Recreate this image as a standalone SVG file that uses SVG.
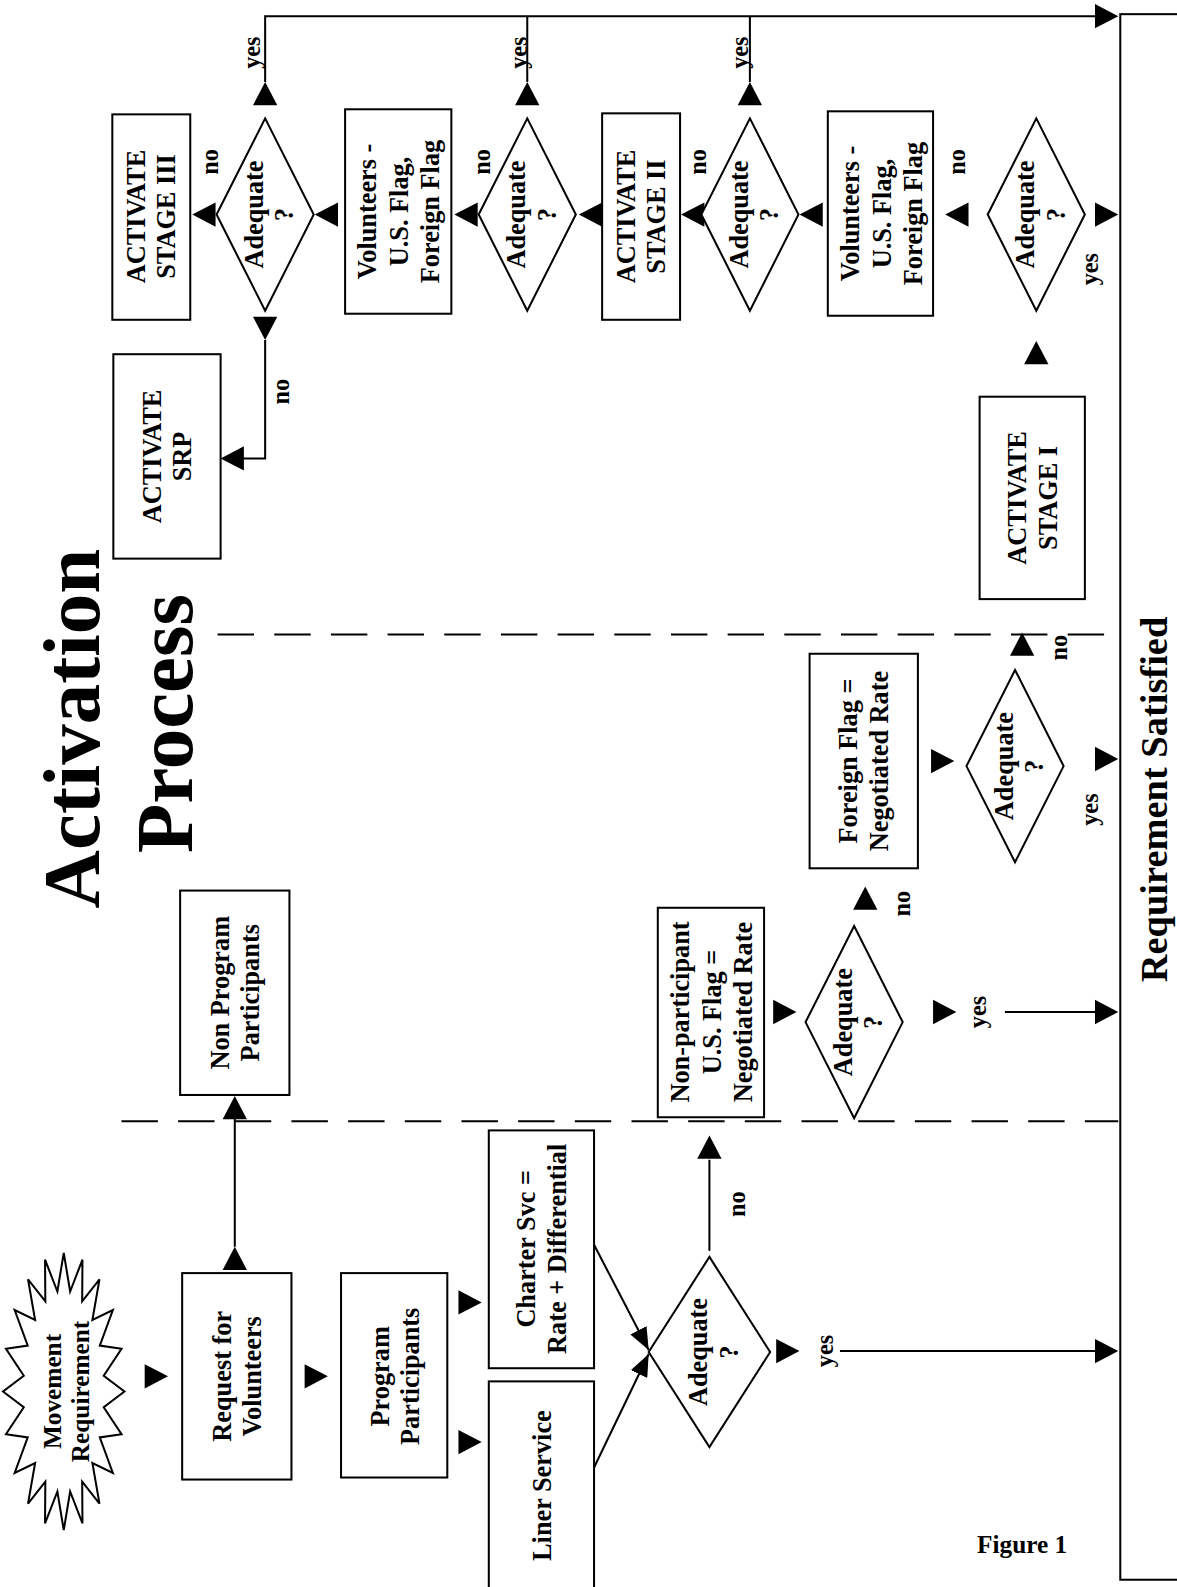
<svg xmlns="http://www.w3.org/2000/svg" xmlns:xlink="http://www.w3.org/1999/xlink" width="1177" height="1587" viewBox="0 0 1177 1587">
<style>
.box{fill:#fff;stroke:#000;stroke-width:2}
.ln{fill:none;stroke:#000;stroke-width:2}
.dash{fill:none;stroke:#000;stroke-width:2;stroke-dasharray:36 20}
text{font-family:"Liberation Serif","Times New Roman",serif;font-weight:bold;fill:#000}
.t{font-size:26px;text-anchor:middle}
.lb{font-size:24px;text-anchor:middle}
.title{font-size:80px;text-anchor:middle}
</style>
<defs>
<polygon id="tri" points="-23,-12 0,0 -23,12" fill="#000"/>
<marker id="ah2" viewBox="0 0 22 18" refX="22" refY="9" markerWidth="22" markerHeight="18" markerUnits="userSpaceOnUse" orient="auto">
<path d="M0,0 L22,9 L0,18 z" fill="#000"/>
</marker>
</defs>
<rect width="1177" height="1587" fill="#fff"/>
<g id="diagram" transform="scale(1.012)">

<g id="title">
<g transform="translate(70,720) rotate(-90)"><text class="title" x="0" y="28">Activation</text></g>
<g transform="translate(162,715) rotate(-90)"><text class="title" x="0" y="28">Process</text></g>
</g>

<g id="dividers">
<line class="dash" x1="215" y1="627" x2="1105" y2="627"/>
<line class="dash" x1="120" y1="1108" x2="1105" y2="1108"/>
</g>

<g id="connectors">
<path class="ln" d="M262,81 V16 H1085"/>
<path class="ln" d="M521,81 V16"/>
<path class="ln" d="M741,81 V16"/>
<path class="ln" d="M262,336 V453 H240"/>
<path class="ln" d="M232,1232 V1104"/>
<path class="ln" d="M701,1236 V1146"/>
<path class="ln" d="M830,1335 H1085"/>
<path class="ln" d="M993,1000 H1085"/>
<path class="ln" d="M587,1230 L641,1334" marker-end="url(#ah2)"/>
<path class="ln" d="M575,1475 L641,1338" marker-end="url(#ah2)"/>
<use xlink:href="#tri" href="#tri" transform="translate(166,1360)"/>
<use xlink:href="#tri" href="#tri" transform="translate(324,1360)"/>
<use xlink:href="#tri" href="#tri" transform="translate(476,1287)"/>
<use xlink:href="#tri" href="#tri" transform="translate(476,1425)"/>
<use xlink:href="#tri" href="#tri" transform="translate(790,1335)"/>
<use xlink:href="#tri" href="#tri" transform="translate(1105,1335)"/>
<use xlink:href="#tri" href="#tri" transform="translate(787,1000)"/>
<use xlink:href="#tri" href="#tri" transform="translate(945,1000)"/>
<use xlink:href="#tri" href="#tri" transform="translate(1105,1000)"/>
<use xlink:href="#tri" href="#tri" transform="translate(943,752)"/>
<use xlink:href="#tri" href="#tri" transform="translate(1105,750)"/>
<use xlink:href="#tri" href="#tri" transform="translate(1105,212)"/>
<use xlink:href="#tri" href="#tri" transform="translate(1105,16)"/>
<use xlink:href="#tri" href="#tri" transform="translate(190,212) rotate(180)"/>
<use xlink:href="#tri" href="#tri" transform="translate(311,212) rotate(180)"/>
<use xlink:href="#tri" href="#tri" transform="translate(449,212) rotate(180)"/>
<use xlink:href="#tri" href="#tri" transform="translate(572,212) rotate(180)"/>
<use xlink:href="#tri" href="#tri" transform="translate(673,212) rotate(180)"/>
<use xlink:href="#tri" href="#tri" transform="translate(790,212) rotate(180)"/>
<use xlink:href="#tri" href="#tri" transform="translate(934,212) rotate(180)"/>
<use xlink:href="#tri" href="#tri" transform="translate(218,453) rotate(180)"/>
<use xlink:href="#tri" href="#tri" transform="translate(262,81) rotate(-90)"/>
<use xlink:href="#tri" href="#tri" transform="translate(521,81) rotate(-90)"/>
<use xlink:href="#tri" href="#tri" transform="translate(741,81) rotate(-90)"/>
<use xlink:href="#tri" href="#tri" transform="translate(1024,337) rotate(-90)"/>
<use xlink:href="#tri" href="#tri" transform="translate(1010,625) rotate(-90)"/>
<use xlink:href="#tri" href="#tri" transform="translate(855,876) rotate(-90)"/>
<use xlink:href="#tri" href="#tri" transform="translate(701,1122) rotate(-90)"/>
<use xlink:href="#tri" href="#tri" transform="translate(232,1232) rotate(-90)"/>
<use xlink:href="#tri" href="#tri" transform="translate(232,1083) rotate(-90)"/>
<use xlink:href="#tri" href="#tri" transform="translate(262,336) rotate(90)"/>
<g id="labels">
<g transform="translate(207,160) rotate(-90)"><text class="lb" y="8">no</text></g>
<g transform="translate(278,387) rotate(-90)"><text class="lb" y="8">no</text></g>
<g transform="translate(476,160) rotate(-90)"><text class="lb" y="8">no</text></g>
<g transform="translate(690,160) rotate(-90)"><text class="lb" y="8">no</text></g>
<g transform="translate(946,160) rotate(-90)"><text class="lb" y="8">no</text></g>
<g transform="translate(1046,640) rotate(-90)"><text class="lb" y="8">no</text></g>
<g transform="translate(891,893) rotate(-90)"><text class="lb" y="8">no</text></g>
<g transform="translate(728,1190) rotate(-90)"><text class="lb" y="8">no</text></g>
<g transform="translate(249,52) rotate(-90)"><text class="lb" y="8">yes</text></g>
<g transform="translate(513,52) rotate(-90)"><text class="lb" y="8">yes</text></g>
<g transform="translate(731,52) rotate(-90)"><text class="lb" y="8">yes</text></g>
<g transform="translate(1077,266) rotate(-90)"><text class="lb" y="8">yes</text></g>
<g transform="translate(1077,800) rotate(-90)"><text class="lb" y="8">yes</text></g>
<g transform="translate(966,1000) rotate(-90)"><text class="lb" y="8">yes</text></g>
<g transform="translate(815,1335) rotate(-90)"><text class="lb" y="8">yes</text></g>
</g>
</g>

<g id="n-movement">
<polygon class="box" points="123,1375 102.5,1390.6 120.1,1417.3 98.6,1420.4 111.5,1455.5 91.3,1445.7 98.3,1485.8 81.2,1464.1 81.5,1505.3 69.3,1473.8 63,1512 56.7,1473.8 44.5,1505.3 44.8,1464.1 27.7,1485.8 34.7,1445.7 14.5,1455.5 27.4,1420.4 5.9,1417.3 23.5,1390.6 3,1375 23.5,1359.4 5.9,1332.7 27.4,1329.6 14.5,1294.5 34.7,1304.3 27.7,1264.2 44.8,1285.9 44.5,1244.7 56.7,1276.2 63,1238 69.3,1276.2 81.5,1244.7 81.2,1285.9 98.3,1264.2 91.3,1304.3 111.5,1294.5 98.6,1329.6 120.1,1332.7 102.5,1359.4"/>
<g transform="translate(63,1375) rotate(-90)"><text class="t" style="font-size:25px" y="-3"><tspan x="0">Movement</tspan><tspan x="0" dy="28">Requirement</tspan></text></g>
</g>

<g id="n-request">
<rect class="box" x="180" y="1258" width="108" height="204"/>
<g transform="translate(234,1360) rotate(-90)"><text class="t" y="-6"><tspan x="0">Request for</tspan><tspan x="0" dy="30">Volunteers</tspan></text></g>
</g>

<g id="n-program">
<rect class="box" x="337" y="1258" width="105" height="202"/>
<g transform="translate(390,1360) rotate(-90)"><text class="t" y="-6"><tspan x="0">Program</tspan><tspan x="0" dy="30">Participants</tspan></text></g>
</g>

<g id="n-charter">
<rect class="box" x="483" y="1117" width="104" height="235"/>
<g transform="translate(535,1234) rotate(-90)"><text class="t" y="-6"><tspan x="0">Charter Svc =</tspan><tspan x="0" dy="30">Rate + Differential</tspan></text></g>
</g>

<g id="n-liner">
<rect class="box" x="483" y="1365" width="104" height="240"/>
<g transform="translate(535,1468) rotate(-90)"><text class="t" y="9">Liner Service</text></g>
</g>

<g id="d-adequate7">
<polygon class="box" points="701,1242 761,1336 701,1430 641,1336"/>
<g transform="translate(701,1336) rotate(-90)"><text class="t" y="-2"><tspan x="0">Adequate</tspan><tspan x="0" dy="30">?</tspan></text></g>
</g>

<g id="n-nonprog">
<rect class="box" x="178" y="880" width="108" height="202"/>
<g transform="translate(232,981) rotate(-90)"><text class="t" y="-6"><tspan x="0">Non Program</tspan><tspan x="0" dy="30">Participants</tspan></text></g>
</g>

<g id="n-nonpart">
<rect class="box" x="650" y="897" width="105" height="207"/>
<g transform="translate(702,1000) rotate(-90)"><text class="t" y="-21"><tspan x="0">Non-participant</tspan><tspan x="0" dy="31">U.S. Flag =</tspan><tspan x="0" dy="31">Negotiated Rate</tspan></text></g>
</g>

<g id="d-adequate5">
<polygon class="box" points="844,915 892,1010 844,1105 796,1010"/>
<g transform="translate(844,1010) rotate(-90)"><text class="t" y="-2"><tspan x="0">Adequate</tspan><tspan x="0" dy="30">?</tspan></text></g>
</g>

<g id="n-foreign">
<rect class="box" x="800" y="646" width="107" height="212"/>
<g transform="translate(853,752) rotate(-90)"><text class="t" y="-6"><tspan x="0">Foreign Flag =</tspan><tspan x="0" dy="30">Negotiated Rate</tspan></text></g>
</g>

<g id="d-adequate6">
<polygon class="box" points="1003,662 1051,757 1003,852 955,757"/>
<g transform="translate(1003,757) rotate(-90)"><text class="t" y="-2"><tspan x="0">Adequate</tspan><tspan x="0" dy="30">?</tspan></text></g>
</g>

<g id="n-stage1">
<rect class="box" x="968" y="392" width="104" height="200"/>
<g transform="translate(1020,492) rotate(-90)"><text class="t" y="-6"><tspan x="0">ACTIVATE</tspan><tspan x="0" dy="30">STAGE I</tspan></text></g>
</g>

<g id="d-adequate4">
<polygon class="box" points="1024,117 1072,212 1024,307 976,212"/>
<g transform="translate(1024,212) rotate(-90)"><text class="t" y="-2"><tspan x="0">Adequate</tspan><tspan x="0" dy="30">?</tspan></text></g>
</g>

<g id="n-vol2">
<rect class="box" x="818" y="110" width="104" height="202"/>
<g transform="translate(870,211) rotate(-90)"><text class="t" y="-21"><tspan x="0">Volunteers -</tspan><tspan x="0" dy="31">U.S. Flag,</tspan><tspan x="0" dy="31">Foreign Flag</tspan></text></g>
</g>

<g id="d-adequate3">
<polygon class="box" points="741,117 789,212 741,307 693,212"/>
<g transform="translate(741,212) rotate(-90)"><text class="t" y="-2"><tspan x="0">Adequate</tspan><tspan x="0" dy="30">?</tspan></text></g>
</g>

<g id="n-stage2">
<rect class="box" x="595" y="112" width="77" height="204"/>
<g transform="translate(633,214) rotate(-90)"><text class="t" y="-6"><tspan x="0">ACTIVATE</tspan><tspan x="0" dy="30">STAGE II</tspan></text></g>
</g>

<g id="d-adequate2">
<polygon class="box" points="521,117 569,212 521,307 473,212"/>
<g transform="translate(521,212) rotate(-90)"><text class="t" y="-2"><tspan x="0">Adequate</tspan><tspan x="0" dy="30">?</tspan></text></g>
</g>

<g id="n-vol1">
<rect class="box" x="341" y="108" width="105" height="202"/>
<g transform="translate(393,209) rotate(-90)"><text class="t" y="-21"><tspan x="0">Volunteers -</tspan><tspan x="0" dy="31">U.S. Flag,</tspan><tspan x="0" dy="31">Foreign Flag</tspan></text></g>
</g>

<g id="d-adequate1">
<polygon class="box" points="262,117 310,212 262,307 214,212"/>
<g transform="translate(262,212) rotate(-90)"><text class="t" y="-2"><tspan x="0">Adequate</tspan><tspan x="0" dy="30">?</tspan></text></g>
</g>

<g id="n-stage3">
<rect class="box" x="111" y="113" width="77" height="203"/>
<g transform="translate(149,214) rotate(-90)"><text class="t" y="-6"><tspan x="0">ACTIVATE</tspan><tspan x="0" dy="30">STAGE III</tspan></text></g>
</g>

<g id="n-srp">
<rect class="box" x="112" y="350" width="106" height="202"/>
<g transform="translate(165,451) rotate(-90)"><text class="t" y="-6"><tspan x="0">ACTIVATE</tspan><tspan x="0" dy="30">SRP</tspan></text></g>
</g>

<g id="n-reqsat">
<rect class="box" x="1107" y="14" width="100" height="1547"/>
<g transform="translate(1140,790) rotate(-90)"><text style="font-size:38px;text-anchor:middle" y="13">Requirement Satisfied</text></g>
</g>

<text x="1010" y="1535" style="font-size:25px;text-anchor:middle">Figure 1</text>
</g>
</svg>
